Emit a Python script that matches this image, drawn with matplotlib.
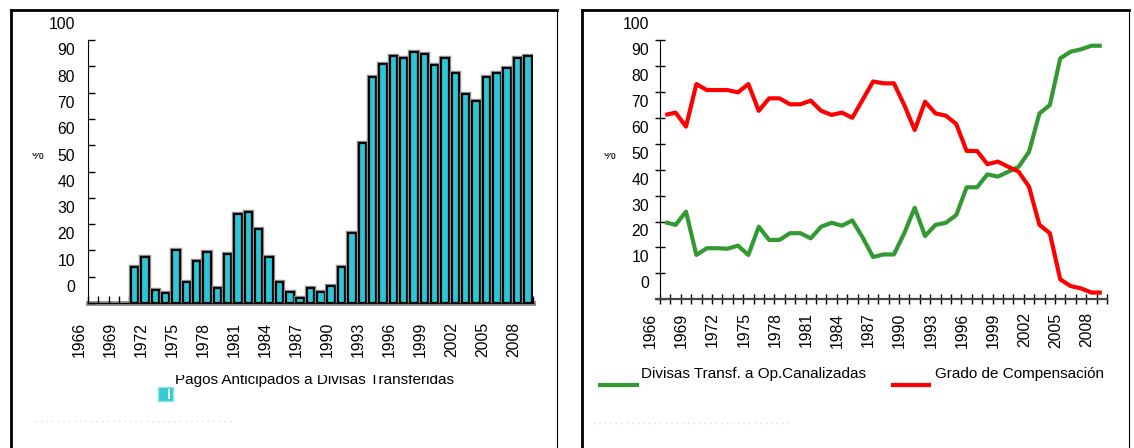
import numpy as np
import matplotlib.pyplot as plt
from matplotlib import transforms
from matplotlib.patches import Rectangle
from matplotlib.lines import Line2D
import matplotlib.patheffects as pe

plt.rcParams['font.family'] = ['Liberation Sans', 'DejaVu Sans']

# datos
anios = list(range(1966, 2009))
etiquetas_x = [str(a) for a in range(1966, 2009, 3)]
etiquetas_y = [str(v) for v in range(0, 101, 10)]

anios_pagos = list(range(1970, 2009))
pagos = [13.6, 17.6, 4.9, 3.9, 20.2, 8.1, 16.1, 19.3, 5.6, 18.5,
         33.7, 34.5, 28.0, 17.6, 7.9, 4.1, 1.8, 5.6, 4.1, 6.5,
         13.6, 26.5, 61.0, 85.8, 90.7, 93.9, 93.0, 95.4, 94.7, 90.5,
         93.0, 87.6, 79.5, 76.9, 85.8, 87.6, 89.2, 93.0, 93.9]

divisas = [29.7, 28.7, 33.8, 17.1, 19.7, 19.7, 19.5, 20.7, 17.1, 28.0,
           22.9, 22.9, 25.5, 25.5, 23.5, 28.0, 29.5, 28.4, 30.4, 23.8,
           16.3, 17.3, 17.3, 25.5, 35.3, 24.4, 28.7, 29.5, 32.5, 43.2,
           43.2, 48.2, 47.3, 49.2, 51.1, 56.9, 71.7, 74.9, 92.9, 95.5,
           96.4, 97.8, 97.8]
grado = [71.1, 72.0, 66.6, 83.0, 80.7, 80.7, 80.7, 79.8, 83.0, 72.7,
         77.5, 77.5, 75.2, 75.2, 76.6, 72.7, 71.1, 72.0, 70.0, 77.0,
         84.0, 83.3, 83.3, 74.9, 65.3, 76.2, 71.7, 70.8, 67.6, 57.2,
         57.2, 52.1, 53.1, 51.1, 49.2, 43.4, 28.7, 25.5, 7.7, 5.1,
         4.2, 2.6, 2.6]

W, H = 1134, 448
fig = plt.figure(figsize=(W / 100, H / 100), dpi=100)


def fx(x):
    return x / W


def fy(y):
    return 1 - y / H


def desplazar(labels, dx, dy):
    # las etiquetas del original salen corridas respecto a las marcas
    off = transforms.ScaledTranslation(dx / 100, dy / 100, fig.dpi_scale_trans)
    for t in labels:
        t.set_transform(t.get_transform() + off)


def ejes(x0, x1, y0, y1, direc, tam, pad_y, pad_x, dx):
    ax = fig.add_axes([fx(x0), fy(y0), fx(x1) - fx(x0), fy(y1) - fy(y0)])
    n = len(anios)
    ax.set_xlim(0, n)
    ax.set_ylim(0, 100)
    ax.spines['top'].set_visible(False)
    ax.spines['right'].set_visible(False)
    ax.set_yticks(range(0, 101, 10))
    ax.set_yticklabels(etiquetas_y)
    ax.set_xticks(np.arange(0, n + 1))
    ax.set_xticklabels([])
    pos = [anios.index(int(a)) + 0.5 for a in etiquetas_x]
    ax.set_xticks(pos, minor=True)
    ax.set_xticklabels(etiquetas_x, minor=True, rotation=90)
    ax.tick_params(axis='both', which='major', direction=direc, length=tam,
                   width=1, color='black', labelsize=11.3)
    ax.tick_params(axis='y', pad=pad_y)
    ax.tick_params(axis='x', which='minor', length=0, pad=pad_x, labelsize=11.3)
    desplazar([t.label1 for t in ax.yaxis.get_major_ticks()], 0, 17)
    desplazar([t.label1 for t in ax.xaxis.get_minor_ticks()], dx, 0)
    return ax


def texto_cortado(x, y, s, ytop, size, **kw):
    t = fig.text(fx(x), fy(y), s, fontsize=size, **kw)
    r = Rectangle((0, 0), 1, fy(ytop), transform=fig.transFigure)
    t.set_clip_path(r)
    return t


# ---- grafico izquierdo: barras ----
ax1 = ejes(88, 533, 303, 40, 'in', 7 * 0.72, 9.2, 13.7, -14)
idx = np.array([anios.index(a) for a in anios_pagos]) + 0.5
ax1.bar(idx, pagos, width=0.72, color='#2BC7D8', edgecolor='black',
        linewidth=1.6, zorder=2,
        path_effects=[pe.Stroke(linewidth=3.2, foreground='#9a9a9a'), pe.Normal()])
ax1.axhline(0, color='#8a8a8a', lw=3.5, zorder=1, clip_on=False)

texto_cortado(32, 159, '%', 153, 9.5)
texto_cortado(175, 384, 'Pagos Anticipados a Divisas Transferidas', 375, 11)
fig.add_artist(Rectangle((fx(158), fy(401)), fx(15), fy(387) - fy(401),
                         transform=fig.transFigure, facecolor='#33CCD6',
                         edgecolor='#8FE3EA', lw=1))
fig.add_artist(Rectangle((fx(167.5), fy(399)), fx(2.5), fy(389) - fy(399),
                         transform=fig.transFigure, facecolor='white', lw=0))

# ---- grafico derecho: lineas ----
ax2 = ejes(660, 1107, 299.3, 40, 'inout', 7.5, 4.1, 9.5, -15)
ax2.spines['bottom'].set_color('#444444')
ax2.spines['bottom'].set_linewidth(1.6)
ax2.spines['bottom'].set_bounds(-0.35, len(anios))
x = np.arange(len(anios)) + 0.5
ax2.plot(x, divisas, color='#339933', lw=3, solid_capstyle='butt')
ax2.plot(x, grado, color='#FF0000', lw=3, solid_capstyle='butt')

texto_cortado(603, 159, '%', 153, 9.5)
fig.text(fx(641), fy(378), 'Divisas Transf. a Op.Canalizadas', fontsize=11)
fig.text(fx(935), fy(378), 'Grado de Compensación', fontsize=11)
fig.add_artist(Line2D([fx(600), fx(637)], [fy(385), fy(385)],
                      transform=fig.transFigure, color='#339933', lw=3))
fig.add_artist(Line2D([fx(893), fx(929)], [fy(385), fy(385)],
                      transform=fig.transFigure, color='#FF0000', lw=3))

# marcos de los paneles
def marco(x0, x1, y0):
    fig.add_artist(Line2D([fx(x0), fx(x0)], [0, fy(y0)], transform=fig.transFigure,
                          color='black', lw=2))
    fig.add_artist(Line2D([fx(x0), fx(x1)], [fy(y0), fy(y0)], transform=fig.transFigure,
                          color='black', lw=2))
    fig.add_artist(Line2D([fx(x1), fx(x1)], [0, fy(y0)], transform=fig.transFigure,
                          color='black', lw=0.8))


marco(10.5, 557, 10.5)
marco(581.5, 1129, 10.5)

# restos punteados bajo cada panel
fig.add_artist(Line2D([fx(35), fx(235)], [fy(421), fy(421)], transform=fig.transFigure,
                      color='#dddddd', lw=1, ls=(0, (1, 3))))
fig.add_artist(Line2D([fx(593), fx(790)], [fy(423), fy(423)], transform=fig.transFigure,
                      color='#dddddd', lw=1, ls=(0, (1, 3))))

fig.savefig('out.png', dpi=100)
